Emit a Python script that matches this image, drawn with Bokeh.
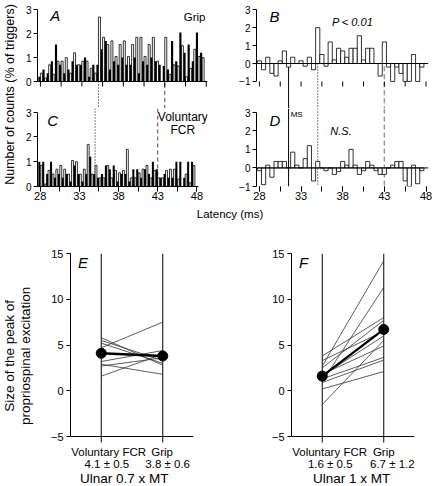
import math
from bokeh.plotting import figure
from bokeh.layouts import row, column
from bokeh.models import Range1d, FixedTicker, Span, Label, Arrow, ColumnDataSource
from bokeh.transform import dodge
from bokeh.embed import file_html
from bokeh.resources import INLINE

FONT = "Liberation Sans"

# ---------------- data ----------------
latency = [28.0 + 0.5 * i for i in range(40)]          # 0.5 ms bins (ms)
latency_ticks = [28, 30.5, 33, 35.5, 38, 40.5, 43, 45.5, 48]
latency_labels = [28, 33, 38, 43, 48]

# A : Grip  (filled bars / open bars, % of triggers)
A_black = [0.2, 0.5, 0.35, 0.85, 1.55, 0.7, 0.35, 0.5, 0.85, 0.7,
           0.7, 1.0, 0.2, 0.7, 0.7, 1.35, 1.7, 0.5, 0.85, 0.7,
           1.0, 0.7, 0.7, 1.0, 0.35, 0.85, 0.7, 1.0, 0.85, 0.7,
           0.65, 0.5, 1.7, 0.85, 2.05, 1.2, 1.55, 0.85, 2.05, 1.2]
A_white = [0.35, 0.15, 0.7, 0.3, 0.85, 0.85, 1.0, 0.35, 1.2, 0.7,
           0.85, 0.85, 0.55, 0.35, 2.7, 1.85, 1.55, 1.7, 1.05, 1.55,
           1.7, 1.05, 1.55, 1.85, 1.85, 1.05, 1.55, 1.85, 0.85, 0.0,
           1.85, 0.3, 0.7, 0.65, 1.5, 0.2, 0.55, 1.35, 1.05, 1.0]
# B : difference (Grip)
B_diff = [0.15, -0.35, 0.35, -0.55, -0.7, 0.15, 0.7, -0.2, 0.35, 0.0,
          0.15, -0.15, 0.35, -0.35, 2.0, 0.5, -0.15, 1.2, 0.2, 0.85,
          0.7, 0.35, 0.85, 0.85, 1.55, 0.2, 0.85, 0.85, 0.0, -0.7,
          1.2, -0.2, -1.0, -0.2, -0.55, -1.0, -1.0, 0.5, -1.0, -0.2]
# C : Voluntary FCR
C_black = [1.0, 1.0, 0.5, 1.0, 0.35, 0.5, 0.35, 0.5, 0.2, 0.85,
           0.5, 0.2, 0.5, 1.2, 0.5, 0.35, 0.5, 0.85, 0.7, 0.85,
           0.2, 0.5, 0.5, 0.2, 0.7, 0.7, 0.35, 0.7, 0.5, 1.0,
           0.7, 0.35, 0.5, 0.35, 0.35, 1.0, 1.0, 0.35, 1.0, 1.0]
C_white = [0.85, 0.1, 0.65, 0.5, 0.7, 0.85, 0.7, 0.5, 1.05, 1.0,
           0.5, 0.7, 1.7, 0.5, 0.85, 0.35, 0.35, 0.85, 0.35, 0.65,
           0.55, 0.65, 1.5, 0.35, 0.35, 0.55, 0.7, 0.85, 0.35, 0.65,
           0.35, 0.35, 0.65, 0.7, 0.7, 0.3, 0.0, 0.5, 0.15, 0.85]
# D : difference (Voluntary FCR)
D_diff = [-0.15, -0.9, 0.15, -0.5, 0.35, 0.35, 0.35, 0.0, 0.85, 0.15,
          0.0, 0.5, 1.2, -0.7, 0.35, 0.0, -0.15, 0.0, -0.35, -0.2,
          0.35, 0.15, 1.0, 0.15, -0.35, -0.15, 0.35, 0.15, -0.15, -0.35,
          -0.35, 0.0, 0.15, 0.35, 0.35, -0.7, -1.0, 0.15, -0.85, -0.15]

conditions = [1, 2]
condition_names = ["Voluntary FCR", "Grip"]
# E : Ulnar 0.7 x MT, individual subjects
E_vol = [5.8, 5.5, 5.2, 4.7, 3.2, 2.9, 2.7, 1.6]
E_grip = [2.8, 3.3, 3.0, 7.5, 4.4, 1.8, 3.6, 4.0]
E_mean = [4.1, 3.8]
E_stats = ["4.1 \u00b1 0.5", "3.8 \u00b1 0.6"]
# F : Ulnar 1 x MT, individual subjects
F_vol = [-1.5, 0.2, 2.7, 1.0, 3.8, 3.3, 2.5, 1.8, 1.3, 0.9, 1.65]
F_grip = [5.5, 2.1, 14.2, 11.3, 8.0, 6.5, 7.7, 4.9, 3.65, 3.35, 6.0]
F_mean = [1.6, 6.7]
F_stats = ["1.6 \u00b1 0.5", "6.7 \u00b1 1.2"]
size_ticks = [-5, 0, 5, 10, 15]

MS_LAT = 31.5
LINE_35 = 35
LINE_43 = 43

X0, X1 = 27.65, 48.15       # latency axis extent (ms)


# ---------------- helpers ----------------
def mk(w, h, xr, yr, bl, br, bt, bb):
    p = figure(width=w, height=h, x_range=xr, y_range=yr,
               output_backend="svg", toolbar_location=None,
               min_border_left=bl, min_border_right=br,
               min_border_top=bt, min_border_bottom=bb)
    p.grid.visible = False
    p.outline_line_color = None
    p.background_fill_color = "white"
    p.border_fill_color = "white"
    for ax in p.axis:
        ax.axis_line_color = "black"
        ax.major_tick_line_color = "black"
        ax.minor_tick_line_color = None
        ax.major_tick_in = 0
        ax.major_label_text_font = FONT
        ax.major_label_text_color = "black"
        ax.axis_label_text_font = FONT
        ax.axis_label_text_font_style = "normal"
        ax.axis_label_text_color = "black"
    return p


def blank(w, h):
    p = figure(width=w, height=h, x_range=Range1d(0, w), y_range=Range1d(0, h),
               min_border=0, output_backend="svg", toolbar_location=None)
    p.axis.visible = False
    p.grid.visible = False
    p.outline_line_color = None
    return p


def lab(p, x, y, text, size, italic=False, align="left", baseline="middle", angle=0):
    p.add_layout(Label(x=x, y=y, text=text, text_font=FONT, text_font_size=size,
                       text_font_style="italic" if italic else "normal",
                       text_align=align, text_baseline=baseline, text_color="black",
                       angle=angle))


def vline(p, x, dash, color="black", width=1):
    p.add_layout(Span(location=x, dimension="height", line_dash=dash,
                      line_color=color, line_width=width, level="underlay"))


def down(p, x, y0, dash, color="black", width=1):
    # vertical line from y0 down to the bottom of the frame
    p.add_layout(Arrow(end=None, x_start=x, y_start=y0, x_end=x, y_end=-50,
                       line_dash=dash, line_color=color, line_width=width,
                       level="underlay"))


def yaxis_style(p, ticks, bounds, size="10px", out=4, standoff=2):
    p.yaxis.ticker = FixedTicker(ticks=ticks)
    p.yaxis.bounds = bounds
    p.yaxis.major_tick_out = out
    p.yaxis.major_label_standoff = standoff
    p.yaxis.major_label_text_font_size = size


def xaxis_latency(p, bounds):
    p.xaxis.ticker = FixedTicker(ticks=latency_labels, minor_ticks=latency_ticks)
    p.xaxis.bounds = bounds
    p.xaxis.major_tick_out = 5
    p.xaxis.minor_tick_out = 5
    p.xaxis.minor_tick_in = 0
    p.xaxis.minor_tick_line_color = "black"
    p.xaxis.major_label_standoff = 0
    p.xaxis.major_label_text_font_size = "11px"


src_A = ColumnDataSource(dict(lat=latency, black=A_black, white=A_white))
src_C = ColumnDataSource(dict(lat=latency, black=C_black, white=C_white))
src_B = ColumnDataSource(dict(lat=latency, diff=B_diff))
src_D = ColumnDataSource(dict(lat=latency, diff=D_diff))

# ---------------- A (frame runs down through the gap) ----------------
pA = mk(202, 108, Range1d(X0, X1), Range1d(-1.13, 3.14), 17, 15, 6, 0)
pA.xaxis.visible = False
yaxis_style(pA, [0, 1, 2, 3], (0, 3))
down(pA, LINE_35, 0, "1 2")
down(pA, LINE_43, -0.1, "4 3", "#444")
pA.add_layout(Span(location=0, dimension="width", line_color="black", line_width=1))
pA.segment(x0=latency_ticks, y0=0, x1=latency_ticks, y1=-0.21, line_color="black",
           line_width=1)
pA.vbar(x=dodge("lat", 0.12), width=0.24, top="white", bottom=0, source=src_A,
        fill_color="white", line_color="black", line_width=0.8)
pA.vbar(x=dodge("lat", -0.12), width=0.26, top="black", bottom=0, source=src_A,
        fill_color="black", line_color=None)
lab(pA, 29.2, 3.14, "A", "15px", italic=True, baseline="top")
lab(pA, 47.9, 2.7, "Grip", "11.5px", align="right")

# ---------------- C ----------------
pC = mk(202, 96, Range1d(X0, 49.35), Range1d(0, 3.15), 17, 5, 0, 18)
yaxis_style(pC, [0, 1, 2, 3], (0, 3))
xaxis_latency(pC, (X0, X1))
vline(pC, LINE_35, "1 2")
vline(pC, LINE_43, "4 3", "#444")
pC.vbar(x=dodge("lat", 0.12), width=0.24, top="white", bottom=0, source=src_C,
        fill_color="white", line_color="black", line_width=0.8)
pC.vbar(x=dodge("lat", -0.12), width=0.26, top="black", bottom=0, source=src_C,
        fill_color="black", line_color=None)
lab(pC, 28.9, 3.0, "C", "15px", italic=True, baseline="top")
lab(pC, 46.2, 2.82, "Voluntary", "12px", align="center")
lab(pC, 46.2, 2.3, "FCR", "12px", align="center")

# ---------------- B (frame runs down through the gap) ----------------
pB = mk(213, 108, Range1d(X0, 48.3), Range1d(-2.51, 3.18), 34, 7, 6, 0)
pB.xaxis.visible = False
yaxis_style(pB, [-1, 0, 1, 2, 3], (-1, 3))
down(pB, LINE_35, 0, "1 2")
down(pB, MS_LAT, 0, "solid")
down(pB, LINE_43, -0.15, "5 3", "#999", 1.5)
pB.add_layout(Span(location=0, dimension="width", line_color="black", line_width=1))
pB.segment(x0=latency_ticks, y0=-1, x1=latency_ticks, y1=-1.28, line_color="black",
           line_width=1)
pB.vbar(x="lat", width=0.5, top="diff", bottom=0, source=src_B,
        fill_color="white", line_color="black", line_width=0.8)
lab(pB, 29.2, 3.07, "B", "15px", italic=True, baseline="top")
lab(pB, 36.7, 2.31, "P < 0.01", "11px", italic=True)

# ---------------- D ----------------
pD = mk(213, 96, Range1d(X0, 48.3), Range1d(-1, 3.2), 34, 7, 0, 18)
yaxis_style(pD, [-1, 0, 1, 2, 3], (-1, 3))
xaxis_latency(pD, (X0, 48.3))
pD.xaxis.axis_line_color = None
vline(pD, LINE_35, "1 2")
vline(pD, MS_LAT, "solid")
vline(pD, LINE_43, "5 3", "#999", 1.5)
pD.add_layout(Span(location=0, dimension="width", line_color="black", line_width=1))
pD.vbar(x="lat", width=0.5, top="diff", bottom=0, source=src_D,
        fill_color="white", line_color="black", line_width=0.8)
lab(pD, 29.2, 3.0, "D", "15px", italic=True, baseline="top")
lab(pD, 31.75, 3.13, "MS", "8px", baseline="top")
lab(pD, 36.5, 2.0, "N.S.", "11px", italic=True)

# ---------------- y label & latency label ----------------
pY = blank(20, 204)
lab(pY, 9, 110, "Number of counts (% of triggers)", "12.5px", align="center",
    angle=math.pi / 2)

pL = blank(435, 18)
lab(pL, 229.5, 9, "Latency (ms)", "11.5px", align="center")

pEY = blank(40, 264)
lab(pEY, 9, 148, "Size of the peak of", "13.5px", align="center", angle=math.pi / 2)
lab(pEY, 25, 148, "propriospinal excitation", "13.5px", align="center",
    angle=math.pi / 2)


# ---------------- E / F (frame runs below the x axis for its texts) ----------------
def bottom_panel(w, bl, br, vol, grip, mean, stats, xlabel, letter, name_x, stat_x,
                 xlabel_x):
    p = mk(w, 264, Range1d(0.5, 2.5), Range1d(-10.46, 15), bl, br, 31, 0)
    p.xaxis.visible = False
    yaxis_style(p, size_ticks, (-5, 15), size="11px", out=4, standoff=3)
    p.add_layout(Span(location=-5, dimension="width", line_color="black", line_width=1))
    p.segment(x0=conditions, y0=15, x1=conditions, y1=-5.66, line_color="black",
              line_width=1)
    p.segment(x0=conditions[0], y0=vol, x1=conditions[1], y1=grip,
              line_color="#333333", line_width=0.8)
    p.line(conditions, mean, line_color="black", line_width=2.3)
    p.scatter(conditions, mean, size=10, fill_color="black", line_color="black")
    lab(p, 0.62, 15.0, letter, "15px", italic=True, baseline="top")
    for nx, sx, name, st in zip(name_x, stat_x, condition_names, stats):
        lab(p, nx, -6.64, name, "11.5px", align="center")
        lab(p, sx, -7.95, st, "11.5px", align="center")
    lab(p, xlabel_x, -9.59, xlabel, "13.5px", align="center")
    return p


pE = bottom_panel(189, 30, 36, E_vol, E_grip, E_mean, E_stats, "Ulnar 0.7 x MT", "E",
                  [1.12, 1.99], [1.09, 2.08], 1.375)
pF = bottom_panel(206, 62, 21, F_vol, F_grip, F_mean, F_stats, "Ulnar 1 x MT", "F",
                  [1.12, 2.0], [1.13, 2.14], 1.476)

layout = column(row(pY, column(pA, pC), column(pB, pD)), pL, row(pEY, pE, pF))

open("out.html", "w").write(file_html(layout, INLINE))
